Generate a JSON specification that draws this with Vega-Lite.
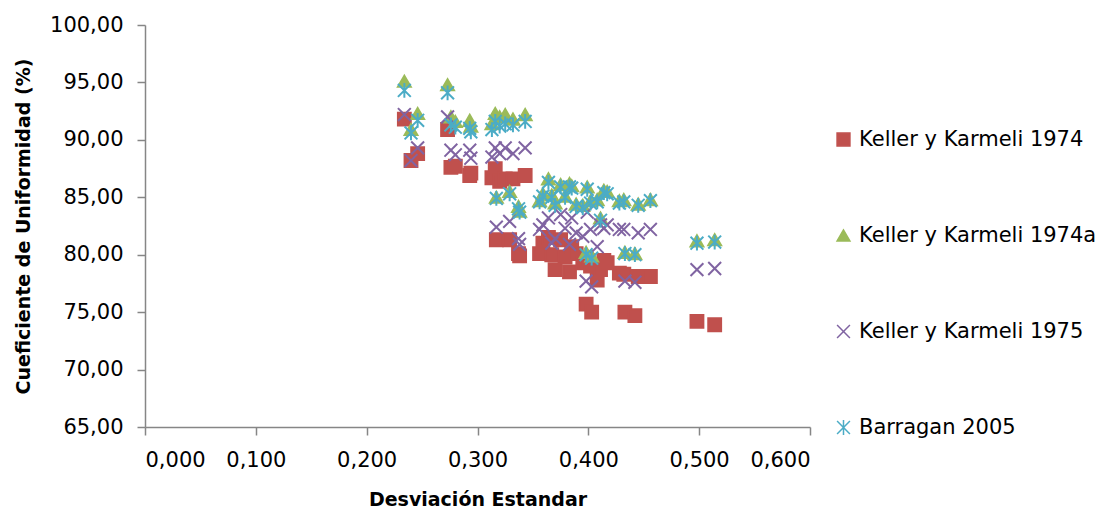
{
"$schema": "https://vega.github.io/schema/vega-lite/v6.json",
"width": 665, "height": 402,
"autosize": {"type": "none"},
"padding": {"left": 145, "top": 25, "right": 289, "bottom": 86},
"background": "white",
"config": {
  "locale": {"number": {"decimal": ",", "thousands": ".", "grouping": [3], "currency": ["", " €"]}},
  "view": {"stroke": null},
  "font": "DejaVu Sans"
},
"data": {"values": [
{"s":"Keller y Karmeli 1974","x":0.234,"y":91.8},{"s":"Keller y Karmeli 1974","x":0.240,"y":88.2},{"s":"Keller y Karmeli 1974","x":0.246,"y":88.8},{"s":"Keller y Karmeli 1974","x":0.273,"y":90.9},{"s":"Keller y Karmeli 1974","x":0.276,"y":87.6},{"s":"Keller y Karmeli 1974","x":0.280,"y":87.7},{"s":"Keller y Karmeli 1974","x":0.293,"y":86.9},{"s":"Keller y Karmeli 1974","x":0.294,"y":87.1},{"s":"Keller y Karmeli 1974","x":0.313,"y":86.7},{"s":"Keller y Karmeli 1974","x":0.316,"y":87.5},{"s":"Keller y Karmeli 1974","x":0.317,"y":81.3},{"s":"Keller y Karmeli 1974","x":0.320,"y":86.4},{"s":"Keller y Karmeli 1974","x":0.325,"y":86.6},{"s":"Keller y Karmeli 1974","x":0.329,"y":81.3},{"s":"Keller y Karmeli 1974","x":0.332,"y":86.6},{"s":"Keller y Karmeli 1974","x":0.337,"y":80.1},{"s":"Keller y Karmeli 1974","x":0.338,"y":79.9},{"s":"Keller y Karmeli 1974","x":0.343,"y":86.9},{"s":"Keller y Karmeli 1974","x":0.356,"y":80.1},{"s":"Keller y Karmeli 1974","x":0.359,"y":81.0},{"s":"Keller y Karmeli 1974","x":0.364,"y":81.5},{"s":"Keller y Karmeli 1974","x":0.367,"y":80.0},{"s":"Keller y Karmeli 1974","x":0.370,"y":78.7},{"s":"Keller y Karmeli 1974","x":0.375,"y":81.3},{"s":"Keller y Karmeli 1974","x":0.379,"y":79.8},{"s":"Keller y Karmeli 1974","x":0.383,"y":78.5},{"s":"Keller y Karmeli 1974","x":0.385,"y":80.7},{"s":"Keller y Karmeli 1974","x":0.389,"y":80.1},{"s":"Keller y Karmeli 1974","x":0.395,"y":79.3},{"s":"Keller y Karmeli 1974","x":0.398,"y":75.7},{"s":"Keller y Karmeli 1974","x":0.399,"y":79.5},{"s":"Keller y Karmeli 1974","x":0.402,"y":79.0},{"s":"Keller y Karmeli 1974","x":0.403,"y":75.0},{"s":"Keller y Karmeli 1974","x":0.408,"y":77.8},{"s":"Keller y Karmeli 1974","x":0.411,"y":78.7},{"s":"Keller y Karmeli 1974","x":0.414,"y":79.5},{"s":"Keller y Karmeli 1974","x":0.417,"y":79.3},{"s":"Keller y Karmeli 1974","x":0.428,"y":78.4},{"s":"Keller y Karmeli 1974","x":0.432,"y":78.3},{"s":"Keller y Karmeli 1974","x":0.433,"y":75.0},{"s":"Keller y Karmeli 1974","x":0.442,"y":74.7},{"s":"Keller y Karmeli 1974","x":0.445,"y":78.1},{"s":"Keller y Karmeli 1974","x":0.456,"y":78.1},{"s":"Keller y Karmeli 1974","x":0.498,"y":74.2},{"s":"Keller y Karmeli 1974","x":0.514,"y":73.9},
{"s":"Keller y Karmeli 1974a","x":0.234,"y":95.1},{"s":"Keller y Karmeli 1974a","x":0.240,"y":90.9},{"s":"Keller y Karmeli 1974a","x":0.246,"y":92.3},{"s":"Keller y Karmeli 1974a","x":0.273,"y":94.8},{"s":"Keller y Karmeli 1974a","x":0.276,"y":92.0},{"s":"Keller y Karmeli 1974a","x":0.280,"y":91.6},{"s":"Keller y Karmeli 1974a","x":0.293,"y":91.7},{"s":"Keller y Karmeli 1974a","x":0.294,"y":91.2},{"s":"Keller y Karmeli 1974a","x":0.313,"y":91.4},{"s":"Keller y Karmeli 1974a","x":0.316,"y":92.3},{"s":"Keller y Karmeli 1974a","x":0.317,"y":85.0},{"s":"Keller y Karmeli 1974a","x":0.320,"y":92.0},{"s":"Keller y Karmeli 1974a","x":0.325,"y":92.2},{"s":"Keller y Karmeli 1974a","x":0.329,"y":85.5},{"s":"Keller y Karmeli 1974a","x":0.332,"y":91.8},{"s":"Keller y Karmeli 1974a","x":0.337,"y":84.2},{"s":"Keller y Karmeli 1974a","x":0.338,"y":83.8},{"s":"Keller y Karmeli 1974a","x":0.343,"y":92.2},{"s":"Keller y Karmeli 1974a","x":0.356,"y":84.7},{"s":"Keller y Karmeli 1974a","x":0.359,"y":85.3},{"s":"Keller y Karmeli 1974a","x":0.364,"y":86.6},{"s":"Keller y Karmeli 1974a","x":0.367,"y":85.2},{"s":"Keller y Karmeli 1974a","x":0.370,"y":84.5},{"s":"Keller y Karmeli 1974a","x":0.375,"y":86.1},{"s":"Keller y Karmeli 1974a","x":0.379,"y":85.1},{"s":"Keller y Karmeli 1974a","x":0.383,"y":86.2},{"s":"Keller y Karmeli 1974a","x":0.385,"y":86.0},{"s":"Keller y Karmeli 1974a","x":0.389,"y":84.4},{"s":"Keller y Karmeli 1974a","x":0.395,"y":84.3},{"s":"Keller y Karmeli 1974a","x":0.398,"y":80.2},{"s":"Keller y Karmeli 1974a","x":0.399,"y":85.9},{"s":"Keller y Karmeli 1974a","x":0.402,"y":84.7},{"s":"Keller y Karmeli 1974a","x":0.403,"y":79.9},{"s":"Keller y Karmeli 1974a","x":0.408,"y":84.8},{"s":"Keller y Karmeli 1974a","x":0.411,"y":83.2},{"s":"Keller y Karmeli 1974a","x":0.414,"y":85.6},{"s":"Keller y Karmeli 1974a","x":0.417,"y":85.5},{"s":"Keller y Karmeli 1974a","x":0.428,"y":84.7},{"s":"Keller y Karmeli 1974a","x":0.432,"y":84.8},{"s":"Keller y Karmeli 1974a","x":0.433,"y":80.2},{"s":"Keller y Karmeli 1974a","x":0.442,"y":80.1},{"s":"Keller y Karmeli 1974a","x":0.445,"y":84.4},{"s":"Keller y Karmeli 1974a","x":0.456,"y":84.8},{"s":"Keller y Karmeli 1974a","x":0.498,"y":81.2},{"s":"Keller y Karmeli 1974a","x":0.514,"y":81.3},
{"s":"Keller y Karmeli 1975","x":0.234,"y":92.2},{"s":"Keller y Karmeli 1975","x":0.240,"y":88.2},{"s":"Keller y Karmeli 1975","x":0.246,"y":89.3},{"s":"Keller y Karmeli 1975","x":0.273,"y":92.0},{"s":"Keller y Karmeli 1975","x":0.276,"y":89.1},{"s":"Keller y Karmeli 1975","x":0.280,"y":88.7},{"s":"Keller y Karmeli 1975","x":0.293,"y":89.1},{"s":"Keller y Karmeli 1975","x":0.294,"y":88.4},{"s":"Keller y Karmeli 1975","x":0.313,"y":88.5},{"s":"Keller y Karmeli 1975","x":0.316,"y":89.3},{"s":"Keller y Karmeli 1975","x":0.317,"y":82.4},{"s":"Keller y Karmeli 1975","x":0.320,"y":88.8},{"s":"Keller y Karmeli 1975","x":0.325,"y":89.3},{"s":"Keller y Karmeli 1975","x":0.329,"y":82.9},{"s":"Keller y Karmeli 1975","x":0.332,"y":88.8},{"s":"Keller y Karmeli 1975","x":0.337,"y":81.4},{"s":"Keller y Karmeli 1975","x":0.338,"y":80.9},{"s":"Keller y Karmeli 1975","x":0.343,"y":89.3},{"s":"Keller y Karmeli 1975","x":0.356,"y":82.2},{"s":"Keller y Karmeli 1975","x":0.359,"y":82.6},{"s":"Keller y Karmeli 1975","x":0.364,"y":83.2},{"s":"Keller y Karmeli 1975","x":0.367,"y":81.0},{"s":"Keller y Karmeli 1975","x":0.370,"y":81.4},{"s":"Keller y Karmeli 1975","x":0.375,"y":83.5},{"s":"Keller y Karmeli 1975","x":0.379,"y":82.3},{"s":"Keller y Karmeli 1975","x":0.383,"y":80.9},{"s":"Keller y Karmeli 1975","x":0.385,"y":83.2},{"s":"Keller y Karmeli 1975","x":0.389,"y":81.9},{"s":"Keller y Karmeli 1975","x":0.395,"y":81.6},{"s":"Keller y Karmeli 1975","x":0.398,"y":77.7},{"s":"Keller y Karmeli 1975","x":0.399,"y":83.7},{"s":"Keller y Karmeli 1975","x":0.402,"y":82.2},{"s":"Keller y Karmeli 1975","x":0.403,"y":77.2},{"s":"Keller y Karmeli 1975","x":0.408,"y":80.7},{"s":"Keller y Karmeli 1975","x":0.411,"y":82.6},{"s":"Keller y Karmeli 1975","x":0.414,"y":82.3},{"s":"Keller y Karmeli 1975","x":0.417,"y":82.6},{"s":"Keller y Karmeli 1975","x":0.428,"y":82.2},{"s":"Keller y Karmeli 1975","x":0.432,"y":82.2},{"s":"Keller y Karmeli 1975","x":0.433,"y":77.7},{"s":"Keller y Karmeli 1975","x":0.442,"y":77.6},{"s":"Keller y Karmeli 1975","x":0.445,"y":81.9},{"s":"Keller y Karmeli 1975","x":0.456,"y":82.2},{"s":"Keller y Karmeli 1975","x":0.498,"y":78.7},{"s":"Keller y Karmeli 1975","x":0.514,"y":78.8},
{"s":"Barragan 2005","x":0.234,"y":94.3},{"s":"Barragan 2005","x":0.240,"y":90.6},{"s":"Barragan 2005","x":0.246,"y":91.7},{"s":"Barragan 2005","x":0.273,"y":94.1},{"s":"Barragan 2005","x":0.276,"y":91.3},{"s":"Barragan 2005","x":0.280,"y":91.1},{"s":"Barragan 2005","x":0.293,"y":91.0},{"s":"Barragan 2005","x":0.294,"y":90.7},{"s":"Barragan 2005","x":0.313,"y":90.9},{"s":"Barragan 2005","x":0.316,"y":91.6},{"s":"Barragan 2005","x":0.317,"y":84.9},{"s":"Barragan 2005","x":0.320,"y":91.2},{"s":"Barragan 2005","x":0.325,"y":91.4},{"s":"Barragan 2005","x":0.329,"y":85.3},{"s":"Barragan 2005","x":0.332,"y":91.3},{"s":"Barragan 2005","x":0.337,"y":84.0},{"s":"Barragan 2005","x":0.338,"y":83.7},{"s":"Barragan 2005","x":0.343,"y":91.6},{"s":"Barragan 2005","x":0.356,"y":84.6},{"s":"Barragan 2005","x":0.359,"y":85.1},{"s":"Barragan 2005","x":0.364,"y":86.3},{"s":"Barragan 2005","x":0.367,"y":85.0},{"s":"Barragan 2005","x":0.370,"y":84.3},{"s":"Barragan 2005","x":0.375,"y":85.9},{"s":"Barragan 2005","x":0.379,"y":85.0},{"s":"Barragan 2005","x":0.383,"y":85.9},{"s":"Barragan 2005","x":0.385,"y":85.8},{"s":"Barragan 2005","x":0.389,"y":84.2},{"s":"Barragan 2005","x":0.395,"y":84.1},{"s":"Barragan 2005","x":0.398,"y":80.0},{"s":"Barragan 2005","x":0.399,"y":85.7},{"s":"Barragan 2005","x":0.402,"y":84.5},{"s":"Barragan 2005","x":0.403,"y":79.7},{"s":"Barragan 2005","x":0.408,"y":84.6},{"s":"Barragan 2005","x":0.411,"y":83.0},{"s":"Barragan 2005","x":0.414,"y":85.4},{"s":"Barragan 2005","x":0.417,"y":85.3},{"s":"Barragan 2005","x":0.428,"y":84.5},{"s":"Barragan 2005","x":0.432,"y":84.6},{"s":"Barragan 2005","x":0.433,"y":80.1},{"s":"Barragan 2005","x":0.442,"y":80.0},{"s":"Barragan 2005","x":0.445,"y":84.3},{"s":"Barragan 2005","x":0.456,"y":84.7},{"s":"Barragan 2005","x":0.498,"y":81.0},{"s":"Barragan 2005","x":0.514,"y":81.1}
]},
"mark": {"type": "point", "filled": false, "size": 165, "strokeWidth": 2, "opacity": 1},
"encoding": {
  "x": {"field": "x", "type": "quantitative",
    "scale": {"domain": [0, 0.6], "nice": false, "zero": false},
    "axis": {"title": "Desviación Estandar", "format": ".3f", "values": [0, 0.1, 0.2, 0.3, 0.4, 0.5, 0.6],
      "grid": false, "domainColor": "#868686", "tickColor": "#868686", "tickSize": 8, "domainWidth": 1.5, "tickWidth": 1.5,
      "labelFontSize": 21, "labelColor": "#000000", "labelPadding": 14,
      "titleFontSize": 19, "titleFontWeight": "bold", "titleColor": "#000000", "titlePadding": 20}},
  "y": {"field": "y", "type": "quantitative",
    "scale": {"domain": [65, 100], "nice": false, "zero": false},
    "axis": {"title": "Cueficiente de Uniformidad (%)", "format": ".2f", "values": [65, 70, 75, 80, 85, 90, 95, 100],
      "grid": false, "domainColor": "#868686", "tickColor": "#868686", "tickSize": 8, "domainWidth": 1.5, "tickWidth": 1.5,
      "labelFontSize": 21, "labelColor": "#000000", "labelPadding": 14,
      "titleFontSize": 19, "titleFontWeight": "bold", "titleColor": "#000000", "titlePadding": 16}},
  "shape": {"field": "s", "type": "nominal",
    "scale": {"domain": ["Keller y Karmeli 1974", "Keller y Karmeli 1974a", "Keller y Karmeli 1975", "Barragan 2005"],
      "range": ["square", "triangle-up", "M-1,-1L1,1M-1,1L1,-1", "M-1,-1L1,1M-1,1L1,-1M0,-1.15L0,1.15"]},
    "legend": {"title": null, "orient": "none", "legendX": 688, "legendY": 104, "labelFontSize": 21, "labelColor": "#000000", "labelLimit": 0, "rowPadding": 74, "symbolSize": 165, "labelOffset": 5, "padding": 0}},
  "fill": {"field": "s", "type": "nominal",
    "scale": {"domain": ["Keller y Karmeli 1974", "Keller y Karmeli 1974a", "Keller y Karmeli 1975", "Barragan 2005"],
      "range": ["#C0504D", "#9BBB59", "transparent", "transparent"]},
    "legend": {"title": null, "orient": "none", "legendX": 688, "legendY": 104, "labelFontSize": 21, "labelColor": "#000000", "labelLimit": 0, "rowPadding": 74, "symbolSize": 165, "labelOffset": 5, "padding": 0}},
  "stroke": {"field": "s", "type": "nominal",
    "scale": {"domain": ["Keller y Karmeli 1974", "Keller y Karmeli 1974a", "Keller y Karmeli 1975", "Barragan 2005"],
      "range": ["#C0504D", "#9BBB59", "#8064A2", "#4BACC6"]},
    "legend": {"title": null, "orient": "none", "legendX": 688, "legendY": 104, "labelFontSize": 21, "labelColor": "#000000", "labelLimit": 0, "rowPadding": 74, "symbolSize": 165, "labelOffset": 5, "padding": 0}}
}
}
